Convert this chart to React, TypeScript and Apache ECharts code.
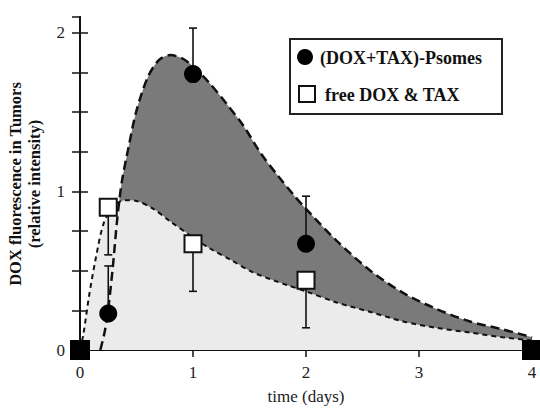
import React, { useEffect, useRef } from "react";
import * as echarts from "echarts";

// time (days), relative intensity
const psomesPoints = [[0, 0], [0.25, 0.23], [1, 1.74], [2, 0.67], [4, 0]];
const psomesErrTop = [[0.25, 0.23, 0.53], [1, 1.74, 2.03], [2, 0.67, 0.97]];
const freePoints = [[0, 0], [0.25, 0.9], [1, 0.67], [2, 0.44], [4, 0]];
const freeErrBottom = [[0.25, 0.9, 0.6], [1, 0.67, 0.37], [2, 0.44, 0.14]];

const psomesCurve = [
  [0.18, 0], [0.22, 0.12], [0.25, 0.26], [0.29, 0.52], [0.33, 0.83], [0.37, 1.06],
  [0.43, 1.28], [0.5, 1.51], [0.6, 1.72], [0.7, 1.83], [0.8, 1.86], [0.9, 1.84],
  [1.0, 1.79], [1.15, 1.68], [1.3, 1.55], [1.45, 1.41], [1.6, 1.24], [1.75, 1.1],
  [1.9, 0.97], [2.0, 0.89], [2.27, 0.69], [2.57, 0.5], [2.86, 0.36], [3.15, 0.26],
  [3.45, 0.18], [3.74, 0.13], [4.0, 0.08],
];
const freeCurve = [
  [0, 0], [0.03, 0.1], [0.08, 0.34], [0.14, 0.58], [0.21, 0.8], [0.3, 0.91],
  [0.4, 0.945], [0.5, 0.94], [0.65, 0.89], [0.8, 0.81], [1.0, 0.71], [1.15, 0.64],
  [1.33, 0.57], [1.53, 0.49], [1.83, 0.41], [2.0, 0.37], [2.27, 0.3], [2.57, 0.24],
  [2.86, 0.18], [3.15, 0.14], [3.45, 0.11], [3.74, 0.08], [4.0, 0.06],
];

const xTicks = ["0", "1", "2", "3", "4"];
const yTicks = ["0", "1", "2"];
const legendNames = ["(DOX+TAX)-Psomes", "free DOX & TAX"];
const yTitle = "DOX fluorescence in Tumors\n(relative intensity)";
const xTitle = "time (days)";

const SERIF = "'Liberation Serif', 'DejaVu Serif', serif";

function errRender(params: any, api: any) {
  const x = api.value(0);
  const p1 = api.coord([x, api.value(1)]);
  const p2 = api.coord([x, api.value(2)]);
  const cap = 4;
  return {
    type: "group",
    children: [
      { type: "line", shape: { x1: p1[0], y1: p1[1], x2: p2[0], y2: p2[1] }, style: { stroke: "#111", lineWidth: 1.6 } },
      { type: "line", shape: { x1: p2[0] - cap, y1: p2[1], x2: p2[0] + cap, y2: p2[1] }, style: { stroke: "#111", lineWidth: 1.6 } },
    ],
  };
}

export default function App() {
  const ref = useRef<HTMLDivElement>(null);
  useEffect(() => {
    const chart = echarts.init(ref.current!, null, { renderer: "svg" });
    const axisLine = { show: true, lineStyle: { color: "#111", width: 2 } };
    const yFmt = (v: number) => {
      const r = Math.round(v);
      return Math.abs(v - r) < 1e-6 && yTicks.includes(String(r)) ? String(r) : "";
    };
    const option: any = {
      animation: false,
      backgroundColor: "#fff",
      grid: { left: 80, right: 8, top: 17, bottom: 52 },
      xAxis: [
        {
          type: "value", min: 0, max: 4, interval: 1,
          axisLine, splitLine: { show: false },
          axisTick: { inside: true, length: 7, lineStyle: { color: "#111", width: 1.5 } },
          axisLabel: {
            formatter: (v: number) => xTicks[Math.round(v)] ?? "",
            color: "#222", fontFamily: SERIF, fontSize: 17, margin: 14,
          },
          name: xTitle, nameLocation: "middle", nameGap: 38,
          nameTextStyle: { color: "#222", fontFamily: SERIF, fontSize: 17 },
        },
        {
          type: "value", min: 0, max: 4, interval: 1, position: "top",
          axisLine, splitLine: { show: false },
          axisTick: { inside: true, length: 7, lineStyle: { color: "#111", width: 1.5 } },
          axisLabel: { show: false },
        },
      ],
      yAxis: [
        {
          type: "value", min: 0, max: 2.1, interval: 0.25,
          axisLine, splitLine: { show: false },
          axisTick: { inside: true, length: 8, lineStyle: { color: "#111", width: 1.5 } },
          axisLabel: {
            formatter: yFmt, color: "#222", fontFamily: SERIF, fontSize: 17, margin: 15,
            showMaxLabel: false,
          },
        },
        {
          type: "value", min: 0, max: 2.1, interval: 0.25, position: "right",
          axisLine, splitLine: { show: false },
          axisTick: { inside: true, length: 8, lineStyle: { color: "#111", width: 1.5 } },
          axisLabel: { show: false },
        },
      ],
      series: [
        {
          type: "line", data: psomesCurve, smooth: 0.3, showSymbol: false, z: 1,
          lineStyle: { width: 0 }, areaStyle: { color: "#7a7a7a", opacity: 1 },
        },
        {
          type: "line", data: freeCurve, smooth: 0.3, showSymbol: false, z: 1,
          lineStyle: { width: 0 }, areaStyle: { color: "#ebebeb", opacity: 1 },
        },
        {
          type: "line", data: psomesCurve, smooth: 0.3, showSymbol: false, z: 3,
          lineStyle: { color: "#111", width: 2.5, type: [9, 5] },
        },
        {
          type: "line", data: freeCurve, smooth: 0.3, showSymbol: false, z: 3,
          lineStyle: { color: "#111", width: 2, type: [5, 4] },
        },
        { type: "custom", data: psomesErrTop, renderItem: errRender, z: 4, encode: { x: 0, y: [1, 2] }, clip: false },
        { type: "custom", data: freeErrBottom, renderItem: errRender, z: 4, encode: { x: 0, y: [1, 2] }, clip: false },
        {
          type: "scatter", name: legendNames[0], data: psomesPoints, symbol: "circle", symbolSize: 18,
          itemStyle: { color: "#000", opacity: 1 }, z: 5, clip: false,
        },
        {
          type: "scatter", name: legendNames[1], z: 6, clip: false, symbol: "rect", symbolSize: 17,
          data: freePoints.map((p) =>
            p[1] === 0
              ? { value: p, symbolSize: 20, itemStyle: { color: "#000", borderColor: "#000", borderWidth: 0 } }
              : { value: p }
          ),
          itemStyle: { color: "#fff", borderColor: "#111", borderWidth: 2, opacity: 1 },
        },
      ],
      graphic: [
        {
          type: "text", x: 25, y: 184, rotation: Math.PI / 2,
          style: {
            text: yTitle, fontFamily: SERIF, fontWeight: "bold", fontSize: 16.5, lineHeight: 19,
            fill: "#111", align: "center", verticalAlign: "middle",
          },
        },
        {
          type: "rect", shape: { x: 290, y: 39, width: 212, height: 75 }, z: 10,
          style: { fill: "#fff", stroke: "#222", lineWidth: 2 },
        },
        { type: "circle", shape: { cx: 305, cy: 57, r: 8 }, z: 11, style: { fill: "#000" } },
        {
          type: "rect", shape: { x: 299, y: 86, width: 16, height: 16 }, z: 11,
          style: { fill: "#fff", stroke: "#111", lineWidth: 2 },
        },
        {
          type: "text", x: 320, y: 58, z: 11,
          style: { text: legendNames[0], fontFamily: SERIF, fontWeight: "bold", fontSize: 18, fill: "#111", verticalAlign: "middle" },
        },
        {
          type: "text", x: 325, y: 95, z: 11,
          style: { text: legendNames[1], fontFamily: SERIF, fontWeight: "bold", fontSize: 18, fill: "#111", verticalAlign: "middle" },
        },
      ],
    };
    chart.setOption(option);
    return () => chart.dispose();
  }, []);
  return <div ref={ref} style={{ width: 540, height: 410, position: "absolute", left: 0, top: 0 }} />;
}
